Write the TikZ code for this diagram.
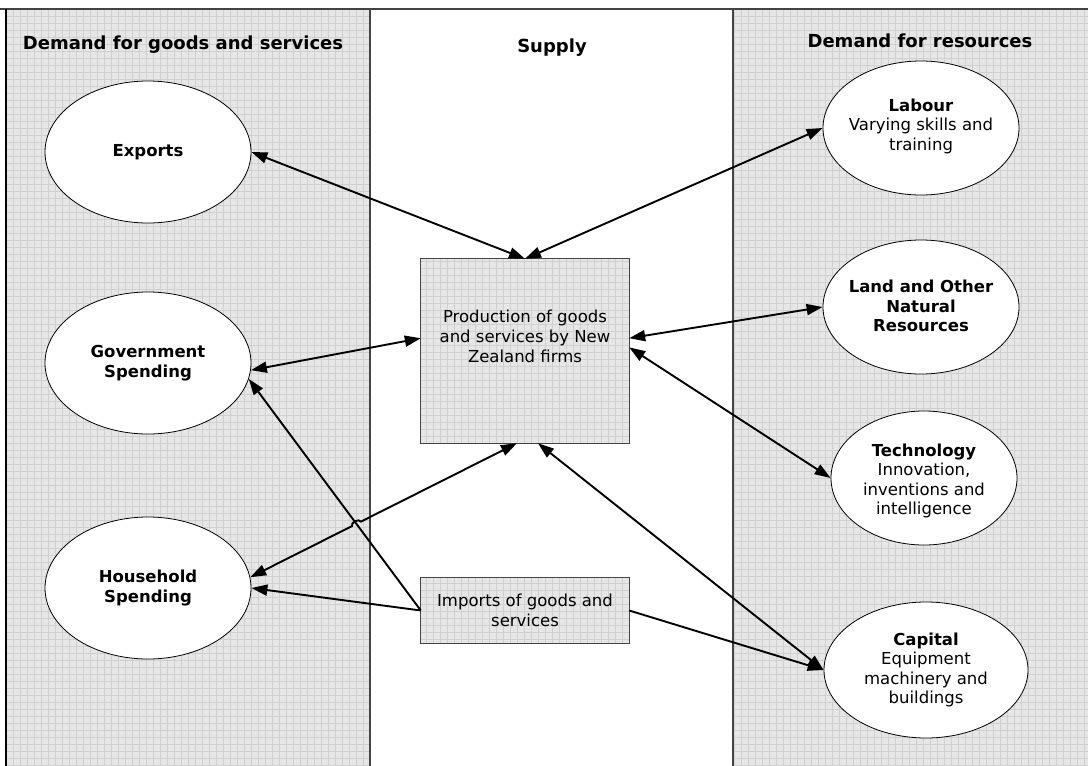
\documentclass[tikz,border=0pt]{standalone}
\usepackage{fontspec}
\setmainfont{DejaVu Sans}
\usetikzlibrary{shapes.geometric,arrows.meta,calc,intersections}
\definecolor{panelgray}{HTML}{E6E6E6}
\definecolor{gridgray}{HTML}{D0D0D0}
\definecolor{framegray}{HTML}{444444}
\begin{document}
\begin{tikzpicture}[x=1pt,y=-1pt,
  gridline/.style={draw=gridgray, line width=0.7pt},
  gridfill/.style={fill=panelgray, path picture={
      \foreach \gx in {6,13,...,1090} \draw[gridline] (\gx,0) -- (\gx,770);
      \foreach \gy in {9,16,...,770} \draw[gridline] (0,\gy) -- (1090,\gy);}},
  oval/.style={ellipse, draw=black, line width=0.8pt, fill=white, inner sep=0pt},
  ovaltext/.style={align=center, font=\fontsize{16.5}{19.5}\selectfont, inner sep=0pt},
  boxnode/.style={rectangle, draw=none, inner sep=0pt},
  boxborder/.style={draw=framegray, line width=0.8pt},
  boxtext/.style={align=center, font=\fontsize{16.5}{20}\selectfont, inner sep=0pt},
  header/.style={font=\fontsize{18}{20}\selectfont\bfseries, inner sep=0pt},
  arr/.style={line width=1.9pt, -{Triangle[length=16pt,width=11pt]}},
  darr/.style={line width=1.9pt, {Triangle[length=16pt,width=11pt]}-{Triangle[length=16pt,width=11pt]}}
]
\useasboundingbox (0,0) rectangle (1088,766);
% panels
\path[gridfill] (6,9) rectangle (370,770);
\path[gridfill] (733,9) rectangle (1090,770);
\draw[framegray, line width=1.4pt] (0,9) -- (1088,9);
\draw[black, line width=1.8pt] (6,9) -- (6,770);
\draw[framegray, line width=1.4pt] (370,9) -- (370,770);
\draw[framegray, line width=1.4pt] (733,9) -- (733,770);

% headers
\node[header] (h1) at (183,45) {Demand for goods and services};
\node[header] (h2) at (552,48) {Supply};
\node[header] (h3) at (920,41) {Demand for resources};

% left ellipses
\node[oval, minimum width=206pt, minimum height=142pt] (exports) at (148,152) {};
\node[ovaltext] (exportst) at (exports) {\textbf{Exports}};
\node[oval, minimum width=206pt, minimum height=142pt] (gov) at (148,363) {};
\node[ovaltext] (govt) at (gov) {\textbf{Government}\\\textbf{Spending}};
\node[oval, minimum width=206pt, minimum height=142pt] (hh) at (148,588) {};
\node[ovaltext] (hht) at (hh) {\textbf{Household}\\\textbf{Spending}};

% right ellipses
\node[oval, minimum width=196pt, minimum height=134pt] (labour) at (921,128) {};
\node[ovaltext] (labourt) at (921,126) {\textbf{Labour}\\Varying skills and\\training};
\node[oval, minimum width=196pt, minimum height=134pt] (land) at (921,307) {};
\node[ovaltext] (landt) at (921,306) {\textbf{Land and Other}\\\textbf{Natural}\\\textbf{Resources}};
\node[oval, minimum width=186pt, minimum height=134pt] (tech) at (924,478) {};
\node[ovaltext] (techt) at (924,481) {\textbf{Technology}\\Innovation,\\inventions and\\intelligence};
\node[oval, minimum width=204pt, minimum height=136pt] (cap) at (926,670) {};
\node[ovaltext] (capt) at (926,670) {\textbf{Capital}\\Equipment\\machinery and\\buildings};

% boxes
\node[boxnode, minimum width=208pt, minimum height=184pt] (prod) at (525,351) {};
\path[gridfill] (prod.north west) rectangle (prod.south east);
\draw[boxborder] (prod.north west) rectangle (prod.south east);
\node[boxtext] (prodt) at (525,336) {Production of goods\\and services by New\\Zealand firms};
\node[boxnode, minimum width=208pt, minimum height=65pt] (imp) at (525,610.5) {};
\path[gridfill] (imp.north west) rectangle (imp.south east);
\draw[boxborder] (imp.north west) rectangle (imp.south east);
\node[boxtext] (impt) at (525,610) {Imports of goods and\\services};

% connectors
\draw[darr] (exports.east) -- (prod.north);
\draw[darr] (labour.west) -- (prod.north);
\draw[darr] (gov.-4) -- (prod.173);
\draw[darr] (land.west) -- (prod.7);
\draw[darr] (tech.west) -- (prod.2);
\draw[darr] (cap.west) -- (prod.278);
\draw[arr] (imp.west) -- (gov.-9);
\draw[arr] (imp.west) -- (hh.east);
\draw[arr] (imp.east) -- (cap.west);

% household line with jump over imports->government line
\path[name path=ig] (imp.west) -- (gov.-9);
\path[name path=hp] (hh.6) -- (prod.265);
\path[name intersections={of=ig and hp, by=X}];
\draw[darr] (hh.6) -- ($(X)!5pt!(hh.6)$) to[bend left=90] ($(X)!5pt!(prod.265)$) -- (prod.265);
\end{tikzpicture}
\end{document}
